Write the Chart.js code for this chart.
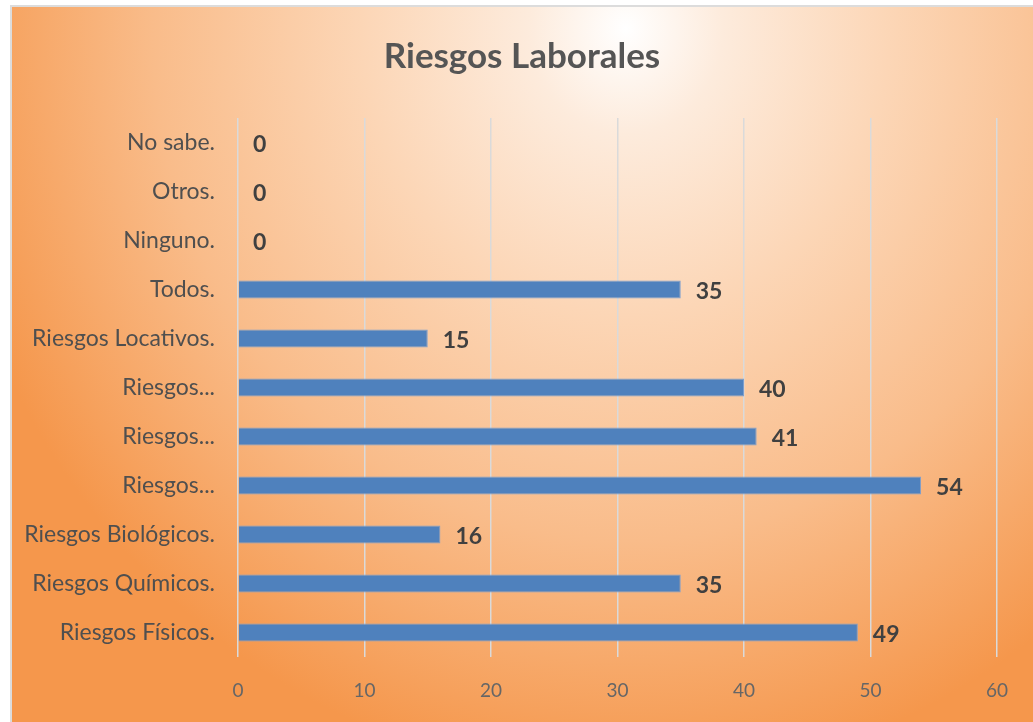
<!DOCTYPE html>
<html>
<head>
<meta charset="utf-8">
<script src="https://cdn.jsdelivr.net/npm/chart.js@4/dist/chart.umd.min.js"></script>
<style>
    html, body { margin: 0; padding: 0; background: #ffffff; }
    .marco {
        position: absolute; left: 10px; top: 5px; width: 1023px; height: 717px;
        border-top: 2px solid #dcdcdc; border-left: 2px solid #dcdcdc;
        background: radial-gradient(ellipse 68% 105% at 60% 3%, #ffffff 0%, #fdebdc 14%, #fcd6b6 38%, #f9bc8a 68%, #f5974c 100%);
    }
    .lienzo { position: absolute; left: 0; top: 0; width: 1033px; height: 722px; }
</style>
</head>
<body>
<div class="marco"></div>
<div class="lienzo"><canvas id="grafica"></canvas></div>
<script>
var titulo = 'Riesgos Laborales';
var categorias = ['No sabe.', 'Otros.', 'Ninguno.', 'Todos.', 'Riesgos Locativos.', 'Riesgos...', 'Riesgos...', 'Riesgos...', 'Riesgos Biológicos.', 'Riesgos Químicos.', 'Riesgos Físicos.'];
var valores = [0, 0, 0, 35, 15, 40, 41, 54, 16, 35, 49];
var ticksX = [0, 10, 20, 30, 40, 50, 60];

var fuente = 'Lato, "Liberation Sans", sans-serif';

// etiquetas de valor al final de cada barra
var etiquetasPlugin = {
    id: 'etiquetas',
    afterDatasetsDraw: function(chart) {
        var ctx = chart.ctx;
        var meta = chart.getDatasetMeta(0);
        ctx.save();
        ctx.fillStyle = '#404040';
        ctx.font = 'bold 23px ' + fuente;
        ctx.textAlign = 'left';
        ctx.textBaseline = 'middle';
        meta.data.forEach(function(bar, i) {
            ctx.fillText(String(valores[i]), bar.x + 15, bar.y + 2);
        });
        ctx.restore();
    }
};

// titulo centrado sobre todo el marco (no solo el area del grafico)
var tituloPlugin = {
    id: 'tituloMarco',
    afterDraw: function(chart) {
        var ctx = chart.ctx;
        ctx.save();
        ctx.fillStyle = '#555555';
        ctx.font = 'bold 35px ' + fuente;
        ctx.textAlign = 'center';
        ctx.textBaseline = 'middle';
        ctx.fillText(titulo, 522, 57);
        ctx.restore();
    }
};

new Chart(document.getElementById('grafica'), {
    type: 'bar',
    plugins: [etiquetasPlugin, tituloPlugin],
    data: {
        labels: categorias,
        datasets: [{
            data: valores,
            backgroundColor: '#4f81bd',
            borderColor: '#7c9fcf',
            borderWidth: 1,
            categoryPercentage: 1,
            barPercentage: 0.37
        }]
    },
    options: {
        indexAxis: 'y',
        responsive: true,
        maintainAspectRatio: false,
        animation: false,
        layout: { padding: { left: 0, right: 36, top: 118, bottom: 22 } },
        plugins: {
            legend: { display: false },
            tooltip: { enabled: false },
            title: { display: false }
        },
        scales: {
            x: {
                min: 0,
                max: 60,
                afterBuildTicks: function(scale) {
                    scale.ticks = ticksX.map(function(v) { return { value: v }; });
                },
                afterFit: function(scale) { scale.height = 43; },
                grid: { color: '#dadada', lineWidth: 1.5, drawTicks: false },
                border: { display: false },
                ticks: { color: '#666666', padding: 22, font: { family: fuente, size: 19 } }
            },
            y: {
                afterFit: function(scale) { scale.width = 238; },
                grid: { display: false, drawTicks: false },
                border: { display: false },
                ticks: { color: '#4f4f4f', padding: 23, font: { family: fuente, size: 23 } }
            }
        }
    }
});
</script>
</body>
</html>
